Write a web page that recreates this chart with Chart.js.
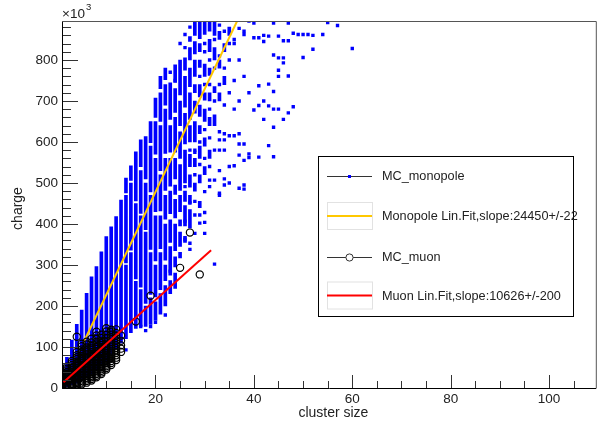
<!DOCTYPE html>
<html>
<head>
<meta charset="utf-8">
<script src="https://cdn.jsdelivr.net/npm/chart.js@4.4.1/dist/chart.umd.min.js"></script>
<style>
  html, body { margin: 0; background: #fff; }
  canvas { display: block; }
</style>
</head>
<body>
<canvas id="chart" width="602" height="429"></canvas>
<script>
// charge values are in units of 10^3
const clusterTicks = [20, 40, 60, 80, 100];
const chargeTicks = [0, 100, 200, 300, 400, 500, 600, 700, 800];

// MC_monopole: dense vertical runs per cluster size [size, from, to]
const monoRuns = [
  [1, 0, 35], [2, 3, 75], [3, 8, 117], [4, 12, 155], [5, 18, 190], [6, 25, 231],
  [7, 35, 271], [8, 45, 296], [9, 55, 332], [10, 65, 369], [11, 80, 393], [12, 95, 418],
  [13, 110, 458],
  [14, 120, 300], [14, 305, 470], [14, 476, 512],
  [15, 135, 330], [15, 336, 500], [15, 506, 542],
  [16, 145, 260], [16, 266, 450], [16, 456, 576],
  [17, 150, 240], [17, 246, 420], [17, 426, 530], [17, 540, 605],
  [18, 150, 200], [18, 206, 380], [18, 386, 500], [18, 510, 613],
  [19, 155, 220], [19, 228, 330], [19, 338, 470], [19, 478, 590], [19, 598, 650],
  [20, 165, 210], [20, 222, 300], [20, 310, 420], [20, 430, 560], [20, 570, 650], [20, 660, 707],
  [21, 180, 230], [21, 240, 330], [21, 340, 420], [21, 432, 520], [21, 530, 640], [21, 650, 720], [21, 730, 760],
  [22, 200, 250], [22, 262, 300], [22, 312, 400], [22, 412, 470], [22, 482, 560], [22, 572, 680], [22, 690, 740], [22, 752, 780],
  [23, 230, 262], [23, 275, 345], [23, 355, 410], [23, 425, 480], [23, 492, 560], [23, 575, 640], [23, 655, 744],
  [24, 243, 280], [24, 295, 320], [24, 335, 400], [24, 415, 460], [24, 472, 495], [24, 510, 560], [24, 575, 660], [24, 672, 730], [24, 745, 788],
  [25, 317, 331], [25, 345, 380], [25, 395, 410], [25, 430, 470], [25, 482, 545], [25, 560, 625], [25, 640, 700], [25, 715, 800],
  [26, 355, 370], [26, 395, 445], [26, 455, 480], [26, 500, 580], [26, 595, 670], [26, 685, 760], [26, 775, 805],
  [27, 390, 435], [27, 450, 470], [27, 490, 520], [27, 540, 570], [27, 600, 640], [27, 655, 720], [27, 735, 780], [27, 800, 830], [27, 845, 857],
  [28, 480, 500], [28, 540, 560], [28, 600, 650], [28, 670, 700], [28, 720, 740], [28, 760, 800], [28, 815, 845], [28, 860, 892],
  [29, 440, 455], [29, 500, 520], [29, 560, 590], [29, 620, 640], [29, 662, 690], [29, 710, 740], [29, 782, 800], [29, 820, 840], [29, 852, 892],
  [30, 520, 540], [30, 590, 610], [30, 650, 680], [30, 702, 720], [30, 760, 790], [30, 862, 892],
  [31, 560, 580], [31, 640, 660], [31, 700, 720], [31, 762, 780], [31, 820, 850], [31, 870, 892],
  [32, 640, 666], [32, 720, 735], [32, 800, 830], [32, 860, 892],
  [33, 700, 720], [33, 780, 800], [33, 850, 870],
  [34, 740, 760], [34, 820, 840], [35, 860, 880],
];

// MC_monopole: isolated entries [size, charge]
const monoPoints = [
  [14, 93], [16, 172], [17, 150], [18, 140], [19, 150], [20, 160], [22, 178],
  [23, 285], [23, 770], [24, 750], [25, 840], [26, 830], [26, 862], [27, 880],
  [26, 362], [26, 407], [26, 491], [27, 338], [27, 353], [27, 451], [27, 580],
  [28, 377], [28, 422], [28, 455], [28, 520], [28, 575], [28, 580],
  [29, 402], [29, 422], [29, 545], [29, 600], [29, 760],
  [30, 377], [30, 404], [30, 428], [30, 479], [30, 560], [30, 630], [30, 740], [30, 820], [30, 840],
  [31, 491], [31, 507], [31, 540], [31, 610], [31, 680], [31, 740], [31, 800],
  [32, 302], [32, 507], [32, 580], [32, 700], [32, 780], [32, 850],
  [33, 470], [33, 475], [33, 530], [33, 580], [33, 605], [33, 625], [33, 740], [33, 810], [33, 885],
  [34, 495], [34, 510], [34, 580], [34, 605], [34, 620], [34, 690], [34, 780], [34, 870],
  [35, 500], [35, 540], [35, 615], [35, 720], [35, 800], [35, 840],
  [36, 542], [36, 615], [36, 680], [36, 750], [36, 840], [36, 850],
  [37, 487], [37, 568], [37, 595], [37, 620], [37, 700], [37, 800], [37, 877],
  [38, 485], [38, 495], [38, 555], [38, 595], [38, 760], [38, 862], [38, 870],
  [39, 562], [39, 571], [39, 720], [39, 895],
  [40, 678], [40, 854], [40, 890],
  [41, 563], [41, 689], [41, 737], [41, 854],
  [42, 655], [42, 700], [42, 845], [42, 860],
  [43, 591], [43, 688], [43, 741], [43, 858],
  [44, 564], [44, 636], [44, 680], [44, 723], [44, 812], [44, 890],
  [45, 680], [45, 760], [45, 775], [45, 805], [45, 858],
  [46, 655], [46, 793], [46, 805], [46, 847],
  [47, 671], [47, 761], [47, 847], [47, 890],
  [48, 686], [48, 865], [49, 862], [50, 806], [50, 862], [51, 862],
  [52, 826], [52, 860], [54, 862], [55, 891], [57, 884], [60, 828],
];

// MC_muon entries, charges listed per cluster size
const muonBySize = [
  [1, [1, 3, 6, 9, 12, 15, 18, 21, 24, 27, 30, 33, 37]],
  [2, [2, 5, 8, 11, 14, 17, 20, 23, 26, 29, 32, 35, 39, 43, 47, 52]],
  [3, [4, 7, 10, 13, 16, 19, 22, 25, 28, 31, 34, 37, 40, 44, 48, 52, 56, 61, 66]],
  [4, [6, 9, 12, 15, 18, 21, 24, 27, 30, 33, 36, 39, 42, 45, 49, 53, 57, 61, 65, 70, 75, 80, 88, 125]],
  [5, [9, 13, 17, 21, 25, 29, 33, 37, 41, 45, 49, 53, 57, 61, 65, 69, 73, 78, 83, 88, 94, 102, 108]],
  [6, [13, 17, 21, 25, 29, 33, 37, 41, 45, 49, 53, 57, 61, 65, 69, 73, 77, 82, 87, 92, 99, 106, 113]],
  [7, [18, 22, 26, 30, 34, 38, 42, 46, 50, 54, 58, 62, 66, 70, 74, 78, 83, 88, 93, 98, 104, 111, 120]],
  [8, [26, 30, 34, 38, 42, 46, 50, 54, 58, 62, 66, 70, 74, 78, 82, 86, 90, 95, 100, 106, 113, 120, 128, 137]],
  [9, [34, 38, 42, 46, 50, 54, 58, 62, 66, 70, 74, 78, 82, 86, 90, 95, 100, 105, 110, 115, 122, 130]],
  [10, [45, 49, 53, 57, 61, 65, 69, 73, 77, 81, 85, 89, 93, 97, 102, 108, 115, 122, 130, 138, 146]],
  [11, [56, 61, 66, 71, 76, 81, 86, 91, 96, 101, 106, 112, 118, 124, 130, 137, 142]],
  [12, [68, 74, 80, 86, 92, 98, 104, 110, 116, 122, 128, 134, 143]],
  [13, [88, 96, 104, 115, 128]],
  [16, [162]], [19, [225]], [25, [293]], [27, [379]], [29, [277]],
];

// fit lines, end points [size, charge]
const monoFit = [[5.3, 109], [36.6, 895]];
const muonFit = [[1.3, 14], [31.3, 336]];

const legendLabels = [
  "MC_monopole",
  "Monopole Lin.Fit,slope:24450+/-22",
  "MC_muon",
  "Muon Lin.Fit,slope:10626+/-200",
];

const BLUE = "#0000ff";
const YELLOW = "#ffc800";
const RED = "#ff0000";
const FONT = "'Liberation Sans', Arial, sans-serif";

const toXY = (pairs) => pairs.map(([x, y]) => ({ x, y }));
const muonPoints = muonBySize.flatMap(([k, list]) => list.map((y) => ({ x: k, y })));

const rootFrame = {
  id: "rootFrame",
  afterDraw(chart) {
    const { ctx, chartArea: a, scales: { x, y } } = chart;
    ctx.save();

    // ticks drawn inward, like ROOT
    ctx.strokeStyle = "#333";
    ctx.lineWidth = 1;
    ctx.beginPath();
    for (let v = 0; v <= 880; v += 20) {
      const py = Math.round(y.getPixelForValue(v)) + 0.5;
      const len = v % 100 === 0 ? 16 : 9;
      ctx.moveTo(a.left, py);
      ctx.lineTo(a.left + len, py);
    }
    for (let v = 5; v <= 105; v += 5) {
      const px = Math.round(x.getPixelForValue(v)) + 0.5;
      const len = v % 20 === 0 ? 13 : 7;
      ctx.moveTo(px, a.bottom);
      ctx.lineTo(px, a.bottom - len);
    }
    ctx.stroke();

    // frame
    ctx.strokeStyle = "#000";
    ctx.beginPath();
    ctx.moveTo(a.left + 0.5, a.top + 0.5);
    ctx.lineTo(a.left + 0.5, a.bottom + 0.5);
    ctx.lineTo(a.right - 0.5, a.bottom + 0.5);
    ctx.stroke();
    ctx.strokeStyle = "#555";
    ctx.beginPath();
    ctx.moveTo(a.left, a.top + 0.5);
    ctx.lineTo(a.right - 0.5, a.top + 0.5);
    ctx.lineTo(a.right - 0.5, a.bottom);
    ctx.stroke();

    // exponent and axis titles
    ctx.fillStyle = "#222";
    ctx.textBaseline = "alphabetic";
    ctx.textAlign = "left";
    ctx.font = `13.5px ${FONT}`;
    ctx.fillText("\u00d710", a.left, 18);
    const w = ctx.measureText("\u00d710").width;
    ctx.font = `9.5px ${FONT}`;
    ctx.fillText("3", a.left + w + 1, 10);

    ctx.font = `14px ${FONT}`;
    ctx.textAlign = "center";
    ctx.textBaseline = "middle";
    ctx.fillText("cluster size", (a.left + a.right) / 2 + 4, 413);
    ctx.save();
    ctx.translate(18, (a.top + a.bottom) / 2 + 4);
    ctx.rotate(-Math.PI / 2);
    ctx.fillText("charge", 0, 0);
    ctx.restore();

    // legend box
    const bx = 318, by = 156, bw = 255, bh = 160;
    ctx.fillStyle = "#fff";
    ctx.fillRect(bx, by, bw, bh);
    ctx.strokeStyle = "#000";
    ctx.strokeRect(bx + 0.5, by + 0.5, bw, bh);

    const rows = [176, 216, 257, 295.5];
    const x0 = 327, x1 = 372, xm = (x0 + x1) / 2;
    // fit entries have a faint fill-box outline
    ctx.strokeStyle = "#e2e2e2";
    ctx.strokeRect(x0 + 0.5, rows[1] - 13.5, x1 - x0, 27);
    ctx.strokeRect(x0 + 0.5, rows[3] - 13.5, x1 - x0, 27);

    ctx.lineWidth = 1;
    ctx.strokeStyle = "#333";
    [rows[0], rows[2]].forEach((ry) => {
      ctx.beginPath();
      ctx.moveTo(x0, Math.round(ry) + 0.5);
      ctx.lineTo(x1, Math.round(ry) + 0.5);
      ctx.stroke();
    });
    ctx.fillStyle = BLUE;
    ctx.fillRect(xm - 1.5, rows[0] - 1, 3, 3);
    ctx.fillStyle = "#fff";
    ctx.beginPath();
    ctx.arc(xm, rows[2] + 0.5, 3.6, 0, Math.PI * 2);
    ctx.fill();
    ctx.stroke();

    ctx.lineWidth = 2;
    ctx.strokeStyle = YELLOW;
    ctx.beginPath();
    ctx.moveTo(x0, rows[1]);
    ctx.lineTo(x1, rows[1]);
    ctx.stroke();
    ctx.strokeStyle = RED;
    ctx.beginPath();
    ctx.moveTo(x0, rows[3]);
    ctx.lineTo(x1, rows[3]);
    ctx.stroke();

    ctx.fillStyle = "#222";
    ctx.font = `12.7px ${FONT}`;
    ctx.textAlign = "left";
    ctx.textBaseline = "middle";
    legendLabels.forEach((label, i) => ctx.fillText(label, 382, rows[i] + 0.5));

    ctx.restore();
  },
};

new Chart(document.getElementById("chart"), {
  type: "scatter",
  data: {
    datasets: [
      {
        type: "line",
        label: legendLabels[3],
        data: toXY(muonFit),
        borderColor: RED,
        borderWidth: 2,
        pointRadius: 0,
        showLine: true,
        order: 1,
      },
      {
        label: legendLabels[2],
        data: muonPoints,
        pointStyle: "circle",
        pointRadius: 3.6,
        borderColor: "#000",
        borderWidth: 1.2,
        backgroundColor: "rgba(0,0,0,0)",
        order: 2,
      },
      {
        type: "line",
        label: legendLabels[1],
        data: toXY(monoFit),
        borderColor: YELLOW,
        borderWidth: 2,
        pointRadius: 0,
        showLine: true,
        order: 3,
      },
      {
        label: legendLabels[0],
        data: toXY(monoPoints),
        pointStyle: "rect",
        pointRadius: 2.4,
        borderWidth: 0,
        backgroundColor: BLUE,
        order: 4,
      },
      {
        type: "bar",
        label: "monopole runs",
        data: monoRuns.map(([k, lo, hi]) => ({ x: k, y: [lo, hi] })),
        backgroundColor: BLUE,
        borderWidth: 0,
        barThickness: 3,
        order: 5,
      },
    ],
  },
  options: {
    responsive: false,
    animation: false,
    devicePixelRatio: 1,
    layout: { padding: { top: 21, right: 2, left: 0, bottom: 0 } },
    plugins: { legend: { display: false }, tooltip: { enabled: false } },
    scales: {
      x: {
        type: "linear",
        min: 1,
        max: 109.7,
        offset: false,
        grid: { display: false, drawTicks: false, offset: false },
        border: { display: false },
        afterBuildTicks: (scale) => { scale.ticks = clusterTicks.map((value) => ({ value })); },
        afterFit: (scale) => { scale.height = 41; },
        ticks: { color: "#222", font: { size: 13.5, family: FONT }, padding: 3, maxRotation: 0 },
      },
      y: {
        type: "linear",
        min: 0,
        max: 895,
        grid: { display: false, drawTicks: false },
        border: { display: false },
        afterBuildTicks: (scale) => { scale.ticks = chargeTicks.map((value) => ({ value })); },
        afterFit: (scale) => { scale.width = 62; },
        ticks: { color: "#222", font: { size: 13.5, family: FONT }, padding: 4 },
      },
    },
  },
  plugins: [rootFrame],
});
</script>
</body>
</html>
